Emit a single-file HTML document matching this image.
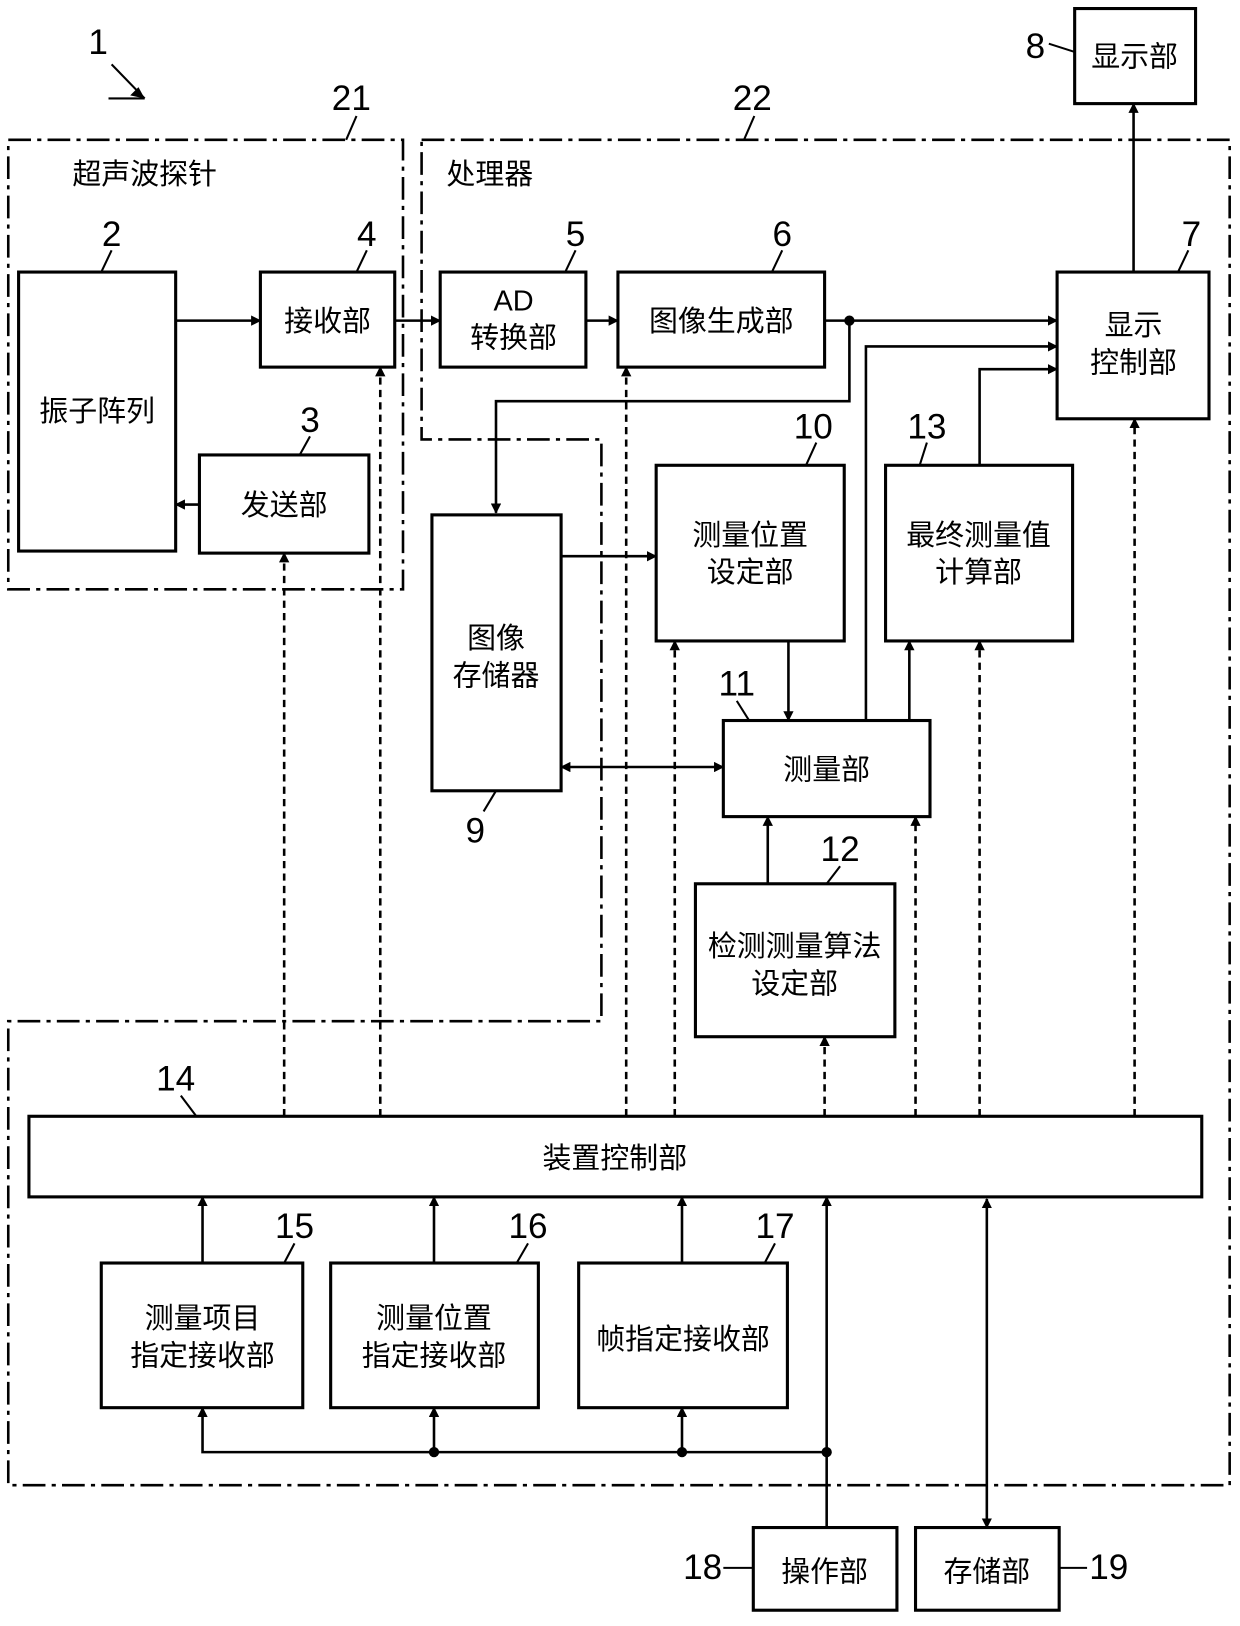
<!DOCTYPE html>
<html><head><meta charset="utf-8"><style>html,body{margin:0;padding:0;background:#fff}svg{display:block}</style></head><body>
<svg width="1240" height="1626" viewBox="0 0 1200 1573" xmlns="http://www.w3.org/2000/svg" font-family="'Liberation Sans','Noto Sans CJK SC',sans-serif">
<defs>
<marker id="a" markerWidth="10" markerHeight="10" refX="9" refY="5" orient="auto" markerUnits="userSpaceOnUse"><path d="M0,0 L10,5 L0,10 z" fill="#000"/></marker>
<marker id="s" markerWidth="10" markerHeight="10" refX="1" refY="5" orient="auto" markerUnits="userSpaceOnUse"><path d="M10,0 L0,5 L10,10 z" fill="#000"/></marker>
</defs>
<g fill="none" stroke="#000" stroke-width="2.5" stroke-dasharray="22,6,4,6">
<rect x="8" y="135" width="382" height="435"/>
<path d="M408,135 H1190 V1437 H8 V988 H582 V425 H408 Z"/>
</g>
<g fill="#fff" stroke="#000" stroke-width="3">
<rect x="18" y="263" width="152" height="270"/>
<rect x="252" y="263" width="130" height="92"/>
<rect x="193" y="440" width="164" height="95"/>
<rect x="426" y="263" width="141" height="92"/>
<rect x="598" y="263" width="200" height="92"/>
<rect x="1023" y="263" width="147" height="142"/>
<rect x="1040" y="8" width="117" height="92"/>
<rect x="418" y="498" width="125" height="267"/>
<rect x="635" y="450" width="182" height="170"/>
<rect x="857" y="450" width="181" height="170"/>
<rect x="700" y="697" width="200" height="93"/>
<rect x="673" y="855" width="193" height="148"/>
<rect x="28" y="1080" width="1135" height="78"/>
<rect x="98" y="1222" width="195" height="140"/>
<rect x="320" y="1222" width="201" height="140"/>
<rect x="560" y="1222" width="202" height="140"/>
<rect x="729" y="1478" width="139" height="80"/>
<rect x="886" y="1478" width="139" height="80"/>
</g>
<g fill="none" stroke="#000" stroke-width="2.5" marker-end="url(#a)">
<path d="M170,310 H252"/><path d="M382,310 H426"/><path d="M567,310 H598"/>
<path d="M798,310 H1023"/><path d="M822,310 V388 H480 V496"/>
<path d="M193,488 H170"/>
<path d="M838,697 V335 H1023"/><path d="M948,450 V357 H1023"/>
<path d="M1097,263 V100"/>
<path d="M543,538 H635"/>
<path d="M543,742 H700" marker-start="url(#s)"/>
<path d="M763,620 V697"/><path d="M743,855 V790"/><path d="M880,697 V620"/>
<path d="M196,1222 V1158"/><path d="M420,1222 V1158"/><path d="M660,1222 V1158"/>
<path d="M800,1405 H196 V1362"/><path d="M420,1405 V1362"/><path d="M660,1405 V1362"/>
<path d="M800,1478 V1158"/>
<path d="M955,1160 V1478" marker-start="url(#s)"/>
</g>
<g fill="none" stroke="#000" stroke-width="2.5" stroke-dasharray="7,5" marker-end="url(#a)">
<path d="M275,1080 V535"/><path d="M368,1080 V355"/><path d="M606,1080 V355"/>
<path d="M653,1080 V620"/><path d="M798,1080 V1003"/><path d="M886,1080 V790"/>
<path d="M948,1080 V620"/><path d="M1098,1080 V405"/>
</g>
<g fill="#000"><circle cx="822" cy="310" r="5"/><circle cx="420" cy="1405" r="5"/><circle cx="660" cy="1405" r="5"/><circle cx="800" cy="1405" r="5"/></g>
<g stroke="#000" stroke-width="2" fill="none">
<path d="M105,95 L140,95 M140,95 L108,62" /><path d="M345,112 L335,135"/><path d="M730,112 L720,135"/>
<path d="M108,242 L98,263"/><path d="M355,242 L345,263"/><path d="M300,422 L290,440"/><path d="M557,242 L547,263"/><path d="M757,242 L747,263"/><path d="M1150,242 L1140,263"/>
<path d="M790,428 L780,450"/><path d="M897,428 L890,450"/><path d="M713,678 L725,697"/><path d="M813,838 L800,855"/>
<path d="M468,785 L480,765"/><path d="M175,1060 L190,1080"/><path d="M285,1203 L275,1222"/><path d="M511,1203 L500,1222"/><path d="M750,1203 L740,1222"/>
<path d="M1015,42 L1040,50"/><path d="M700,1517 L729,1517"/><path d="M1025,1517 L1052,1517"/>
</g>
<path d="M140,95 L126,92 L134,84 Z" fill="#000"/>
<g font-size="34" text-anchor="middle" fill="#000">
<text x="95" y="52">1</text><text x="340" y="106">21</text><text x="728" y="106">22</text>
<text x="108" y="238">2</text><text x="355" y="238">4</text><text x="300" y="418">3</text><text x="557" y="238">5</text><text x="757" y="238">6</text><text x="1153" y="238">7</text>
<text x="1002" y="56">8</text><text x="787" y="424">10</text><text x="897" y="424">13</text><text x="713" y="673">11</text><text x="813" y="833">12</text><text x="460" y="815">9</text>
<text x="170" y="1055">14</text><text x="285" y="1198">15</text><text x="511" y="1198">16</text><text x="750" y="1198">17</text>
<text x="680" y="1528">18</text><text x="1073" y="1528">19</text>
</g>
<g font-size="28" text-anchor="middle" fill="#000">
<text x="140" y="178">超声波探针</text><text x="474" y="178">处理器</text>
<text x="94" y="407">振子阵列</text><text x="317" y="320">接收部</text><text x="275" y="498">发送部</text>
<text x="497" y="300">AD</text><text x="497" y="336">转换部</text><text x="698" y="320">图像生成部</text>
<text x="1097" y="324">显示</text><text x="1097" y="360">控制部</text><text x="1098" y="64">显示部</text>
<text x="480" y="627">图像</text><text x="480" y="663">存储器</text>
<text x="726" y="527">测量位置</text><text x="726" y="563">设定部</text>
<text x="947" y="527">最终测量值</text><text x="947" y="563">计算部</text>
<text x="800" y="754">测量部</text>
<text x="769" y="925">检测测量算法</text><text x="769" y="961">设定部</text>
<text x="595" y="1130">装置控制部</text>
<text x="196" y="1285">测量项目</text><text x="196" y="1321">指定接收部</text>
<text x="420" y="1285">测量位置</text><text x="420" y="1321">指定接收部</text>
<text x="661" y="1305">帧指定接收部</text>
<text x="798" y="1530">操作部</text><text x="955" y="1530">存储部</text>
</g>
</svg>
</body></html>
